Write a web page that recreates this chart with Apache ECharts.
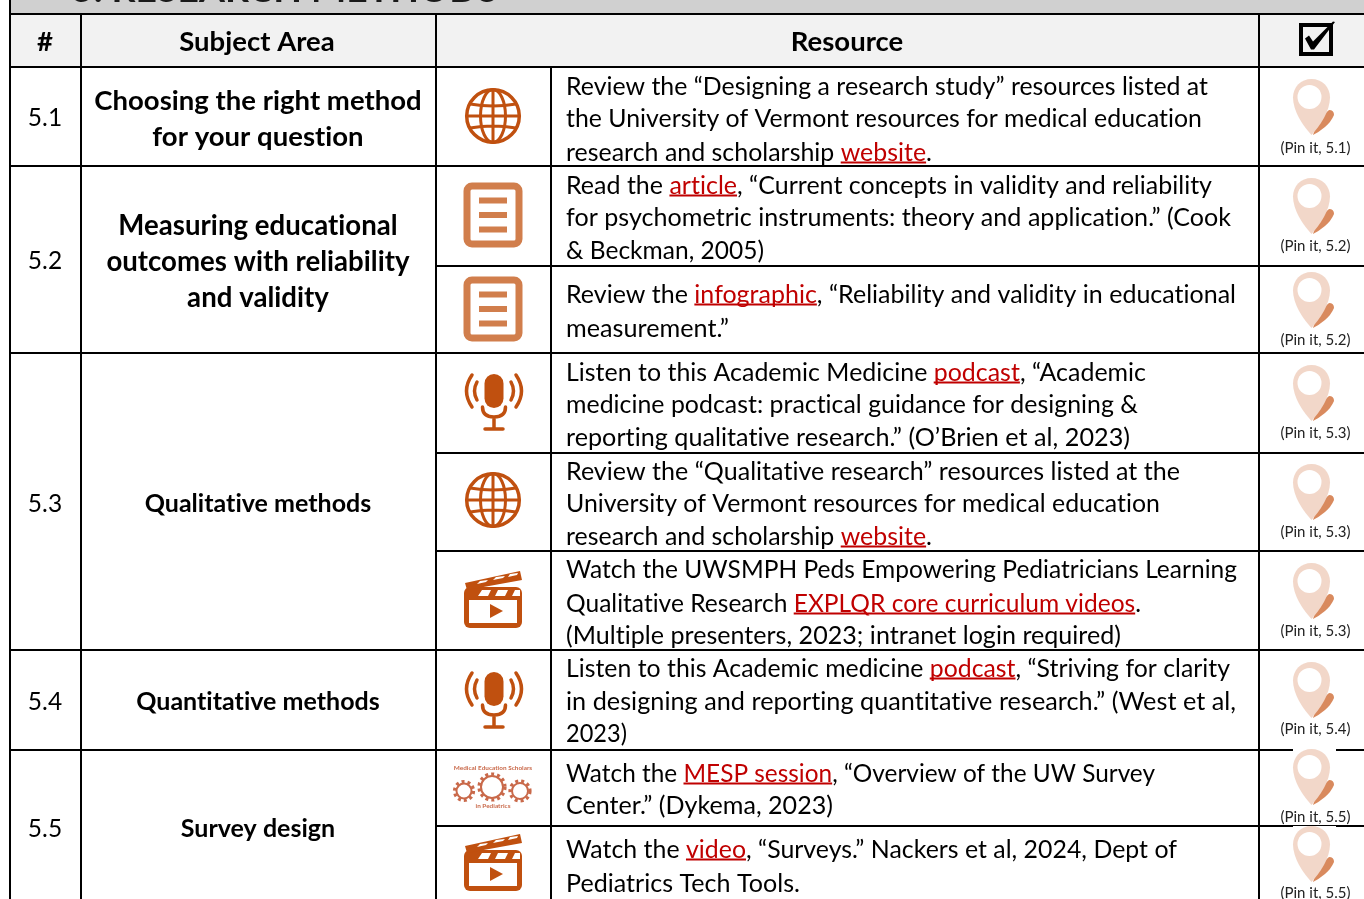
<!DOCTYPE html>
<html>
<head>
<meta charset="utf-8">
<title>Research methods</title>
<style>html,body{margin:0;padding:0;background:#fff;overflow:hidden}#main{width:1364px;height:899px}</style>
<script src="https://cdn.jsdelivr.net/npm/echarts@6/dist/echarts.min.js"></script>
</head>
<body>
<div id="main"></div>
<script>
var bandTitle = '5. RESEARCH METHODS';
var headers = ['#', 'Subject Area', 'Resource'];
var rowNumbers = ['5.1', '5.2', '5.3', '5.4', '5.5'];
var subjectAreas = [
    ['Choosing the right method', 'for your question'],
    ['Measuring educational', 'outcomes with reliability', 'and validity'],
    ['Qualitative methods'],
    ['Quantitative methods'],
    ['Survey design']
];
// [link] marks the underlined red part of a line
var resourceLines = [
    ['Review the “Designing a research study” resources listed at', 'the University of Vermont resources for medical education', 'research and scholarship [website].'],
    ['Read the [article], “Current concepts in validity and reliability', 'for psychometric instruments: theory and application.” (Cook', '& Beckman, 2005)'],
    ['Review the [infographic], “Reliability and validity in educational', 'measurement.”'],
    ['Listen to this Academic Medicine [podcast], “Academic', 'medicine podcast: practical guidance for designing &', 'reporting qualitative research.” (O’Brien et al, 2023)'],
    ['Review the “Qualitative research” resources listed at the', 'University of Vermont resources for medical education', 'research and scholarship [website].'],
    ['Watch the UWSMPH Peds Empowering Pediatricians Learning', 'Qualitative Research [EXPLQR core curriculum videos].', '(Multiple presenters, 2023; intranet login required)'],
    ['Listen to this Academic medicine [podcast], “Striving for clarity', 'in designing and reporting quantitative research.” (West et al,', '2023)'],
    ['Watch the [MESP session], “Overview of the UW Survey', 'Center.” (Dykema, 2023)'],
    ['Watch the [video], “Surveys.” Nackers et al, 2024, Dept of', 'Pediatrics Tech Tools.']
];
var resourceIcons = ['globe', 'doc', 'doc', 'mic', 'globe', 'clap', 'mic', 'logo', 'clap'];
var pinLabels = ['5.1', '5.2', '5.2', '5.3', '5.3', '5.3', '5.4', '5.5', '5.5'];

// layout, in picture pixels, read through the hidden axes
var lineY = [[87, 119, 153], [186, 218, 251], [295, 329], [373, 405, 438], [472, 504, 537], [570, 604, 636], [669, 702, 734], [774, 806], [850, 884]];
var lineEnd = [[1208, 1202, 932], [1212, 1231, 764], [1236, 729], [1146, 1138, 1130], [1180, 1160, 932], [1237, 1141, 1121], [1230, 1236, 627], [1155, 833], [1177, 800]];
var iconCenter = [[493, 116], [493, 215], [493, 309], [494, 403], [493, 500], [493, 600], [494, 701], [493, 787], [493, 863]];
var pinTop = [79, 178, 272, 365, 464, 563, 662, 749, 826];
var pinLabelY = [148, 246, 340, 433, 532, 631, 729, 817, 893];
var subjectY = [[101, 137], [226, 262, 298], [504], [702], [829]];
var numberY = [118, 261, 504, 702, 829];
var subjectSize = [27.5, 27.6, 25, 25, 25];
var hLines = [[10, 1364, 14], [10, 1364, 67], [10, 1364, 166], [436, 1364, 266], [10, 1364, 353], [436, 1364, 453], [436, 1364, 551], [10, 1364, 650], [10, 1364, 750], [436, 1364, 826]];
var vLines = [[10, 0, 899], [81, 14, 899], [436, 14, 899], [551, 67, 899], [1259, 14, 899]];

var FONT = 'Lato';
var ICON = '#C0500F';

// a tiny letter spacing turns off the ti/tt ligatures Lato would draw
var origGetContext = HTMLCanvasElement.prototype.getContext;
HTMLCanvasElement.prototype.getContext = function (kind, opts) {
    var ctx = origGetContext.call(this, kind, opts);
    if (kind === '2d' && ctx) ctx.letterSpacing = '0.02px';
    return ctx;
};
var measureCtx = document.createElement('canvas').getContext('2d');

function rect(api, x0, y0, x1, y1, fill) {
    var a = api.coord([x0, y0]);
    var b = api.coord([x1, y1]);
    return { type: 'rect', shape: { x: a[0], y: a[1], width: b[0] - a[0], height: b[1] - a[1] }, style: { fill: fill } };
}

function label(api, x, y, text, size, opts) {
    opts = opts || {};
    var p = api.coord([x, y]);
    return {
        type: 'text', x: p[0], y: p[1], scaleX: opts.scaleX || 1,
        style: {
            text: text, fill: opts.fill || '#000',
            font: (opts.bold ? 'bold ' : '') + size + 'px ' + FONT,
            align: opts.align || 'center', verticalAlign: 'middle'
        }
    };
}

// each line is stretched a little to end where it ends in the picture
function resourceLine(api, y, line, end) {
    var size = 24.5;
    var left = 566;
    var parts = line.split(/(\[[^\]]*\])/);
    var out = [];
    measureCtx.font = size + 'px ' + FONT;
    var full = measureCtx.measureText(line.replace(/[\[\]]/g, '')).width;
    var stretch = (end - left) / full;
    var x = left;
    parts.forEach(function (part) {
        if (!part) return;
        var isLink = part.charAt(0) === '[';
        var text = isLink ? part.slice(1, -1) : part;
        var w = measureCtx.measureText(text).width * stretch;
        out.push(label(api, x, y, text, size, { align: 'left', fill: isLink ? '#C00000' : '#000', scaleX: stretch }));
        if (isLink) out.push(rect(api, x, y + 8.5, x + w, y + 10.5, '#C00000'));
        x += w;
    });
    return out;
}

function iconGroup(api, cx, cy, children) {
    var p = api.coord([cx, cy]);
    return { type: 'group', x: p[0], y: p[1], children: children };
}

function strokePath(d, color, width, cap) {
    return { type: 'path', shape: { pathData: d }, style: { fill: 'none', stroke: color, lineWidth: width, lineCap: cap || 'butt', lineJoin: 'round' } };
}

function fillPath(d, color) {
    return { type: 'path', shape: { pathData: d }, style: { fill: color, stroke: 'none', lineWidth: 0 } };
}

var drawIcon = {
    globe: function () {
        return [
            { type: 'circle', shape: { cx: 0, cy: 0, r: 26.3 }, style: { fill: 'none', stroke: ICON, lineWidth: 3.5 } },
            { type: 'ellipse', shape: { cx: 0, cy: 0, rx: 12.5, ry: 26.5 }, style: { fill: 'none', stroke: ICON, lineWidth: 3 } },
            strokePath('M0 -27L0 27M-27 0L27 0M-23 -12Q0 -8 23 -12M-23 12Q0 8 23 12', ICON, 3)
        ];
    },
    doc: function () {
        var c = '#D17E4C';
        return [
            { type: 'rect', shape: { x: -26, y: -29, width: 52, height: 58, r: 5 }, style: { fill: '#fff', stroke: c, lineWidth: 7 } },
            strokePath('M-14 -14.5L14 -14.5M-14 0L14 0M-14 14.5L14 14.5', c, 6)
        ];
    },
    mic: function () {
        return [
            { type: 'rect', shape: { x: -9.5, y: -29, width: 19, height: 34, r: 9.5 }, style: { fill: ICON } },
            strokePath('M-11.5 4Q-11.5 14 0 14Q11.5 14 11.5 4M0 14L0 26M-9 26L9 26', ICON, 3.5, 'round'),
            strokePath('M-17 -21Q-22 -12 -17 -3M17 -21Q22 -12 17 -3', ICON, 3.5, 'round'),
            strokePath('M-22 -28Q-33 -12 -22 4M22 -28Q33 -12 22 4', ICON, 3.5, 'round')
        ];
    },
    clap: function () {
        return [
            { type: 'rect', shape: { x: -29, y: -13, width: 58, height: 41, r: 6 }, style: { fill: ICON } },
            { type: 'rect', shape: { x: -24, y: 0, width: 48, height: 23 }, style: { fill: '#fff' } },
            fillPath('M-3 4L-3 18L10 11Z', ICON),
            fillPath('M-28 -17L27 -29L29 -20L-26 -10Z', ICON),
            fillPath('M-16 -16L-7 -18L-5 -20L-13 -19ZM0 -20L10 -22L12 -24L3 -23ZM15 -23L24 -25L25 -27L17 -26Z', '#fff'),
            fillPath('M-15 -4L-5 -4L-2 -10L-11 -10ZM2 -4L12 -4L15 -10L5 -10ZM19 -4L27 -4L27 -10L22 -10Z', '#fff')
        ];
    },
    logo: function () {
        var c = '#C9694A';
        var gear = function (cx, cy, r) {
            return [
                { type: 'circle', shape: { cx: cx, cy: cy, r: r - 2 }, style: { fill: '#fff', stroke: c, lineWidth: 2 } },
                { type: 'circle', shape: { cx: cx, cy: cy, r: r }, style: { fill: 'none', stroke: c, lineWidth: 3.2, lineDash: [3, 3] } }
            ];
        };
        return gear(-29, 4, 9.5).concat(gear(-1, 0, 13), gear(27, 4, 10), [
            { type: 'text', x: 0, y: -19, style: { text: 'Medical Education Scholars', fill: c, font: 'bold 6.4px ' + FONT, align: 'center', verticalAlign: 'middle' } },
            { type: 'text', x: 0, y: 19, style: { text: 'in Pediatrics', fill: c, font: 'bold 6.4px ' + FONT, align: 'center', verticalAlign: 'middle' } }
        ]);
    }
};

function pin(api, top) {
    var p = api.coord([1293, top]);
    return {
        type: 'group', x: p[0], y: p[1],
        children: [
            { type: 'rect', shape: { x: 0, y: 0, width: 43, height: 56 }, style: { fill: '#fff' } },
            fillPath('M25 41L36 31Q41 31 41 36Q38 43 32 48Q26 53 20 56Z', '#D98A5E'),
            fillPath('M18.5 0C8 0 0 8 0 18.5C0 32 10 47 18.5 56C27 47 37 32 37 18.5C37 8 29 0 18.5 0Z', '#F2D7C9'),
            { type: 'circle', shape: { cx: 16.5, cy: 18, r: 12 }, style: { fill: '#fff' } }
        ]
    };
}

function checkbox(api) {
    var a = api.coord([1316, 39.5]);
    return {
        type: 'group', x: a[0], y: a[1],
        children: [
            { type: 'rect', shape: { x: -15, y: -14.5, width: 30, height: 29 }, style: { fill: 'none', stroke: '#000', lineWidth: 4 } },
            fillPath('M-11 -1L-7 -4L-3 2L17 -18L19 -17.5L-2 10L-5 10Z', '#000')
        ]
    };
}

function renderTable(params, api) {
    var c = [];
    c.push(rect(api, 10, 0, 1364, 14, '#D0D0D0'));
    c.push(rect(api, 10, 14, 1364, 67, '#F2F2F2'));
    c.push(label(api, 72, -10, bandTitle, 37.3, { bold: true, align: 'left', fill: '#1a1a1a' }));

    headers.forEach(function (h, i) {
        c.push(label(api, [45, 257, 847][i], 42, h, 27.5, { bold: true }));
    });
    rowNumbers.forEach(function (n, i) {
        c.push(label(api, 45, numberY[i], n, 24.5));
    });
    subjectAreas.forEach(function (lines, i) {
        lines.forEach(function (t, j) {
            c.push(label(api, 258, subjectY[i][j], t, subjectSize[i], { bold: true }));
        });
    });
    resourceLines.forEach(function (lines, i) {
        lines.forEach(function (t, j) {
            c = c.concat(resourceLine(api, lineY[i][j], t, lineEnd[i][j]));
        });
    });
    hLines.forEach(function (l) {
        c.push(rect(api, l[0], l[2] - 1, l[1], l[2] + 1, '#000'));
    });
    vLines.forEach(function (l) {
        c.push(rect(api, l[0] - 1, l[1], l[0] + 1, l[2], '#000'));
    });
    resourceIcons.forEach(function (name, i) {
        c.push(iconGroup(api, iconCenter[i][0], iconCenter[i][1], drawIcon[name]()));
    });
    pinLabels.forEach(function (t, i) {
        c.push(pin(api, pinTop[i]));
        c.push(label(api, 1315.5, pinLabelY[i], '(Pin it, ' + t + ')', 15, { fill: '#222' }));
    });
    c.push(checkbox(api));
    return { type: 'group', children: c };
}

var chart = echarts.init(document.getElementById('main'), null, { renderer: 'canvas' });
chart.setOption({
    animation: false,
    backgroundColor: '#fff',
    grid: { left: 0, right: 0, top: 0, bottom: 0 },
    xAxis: { type: 'value', min: 0, max: 1364, show: false },
    yAxis: { type: 'value', min: 0, max: 899, inverse: true, show: false },
    series: [{
        type: 'custom',
        coordinateSystem: 'cartesian2d',
        clip: false,
        silent: true,
        data: [[0, 0]],
        renderItem: renderTable
    }]
});
</script>
</body>
</html>
